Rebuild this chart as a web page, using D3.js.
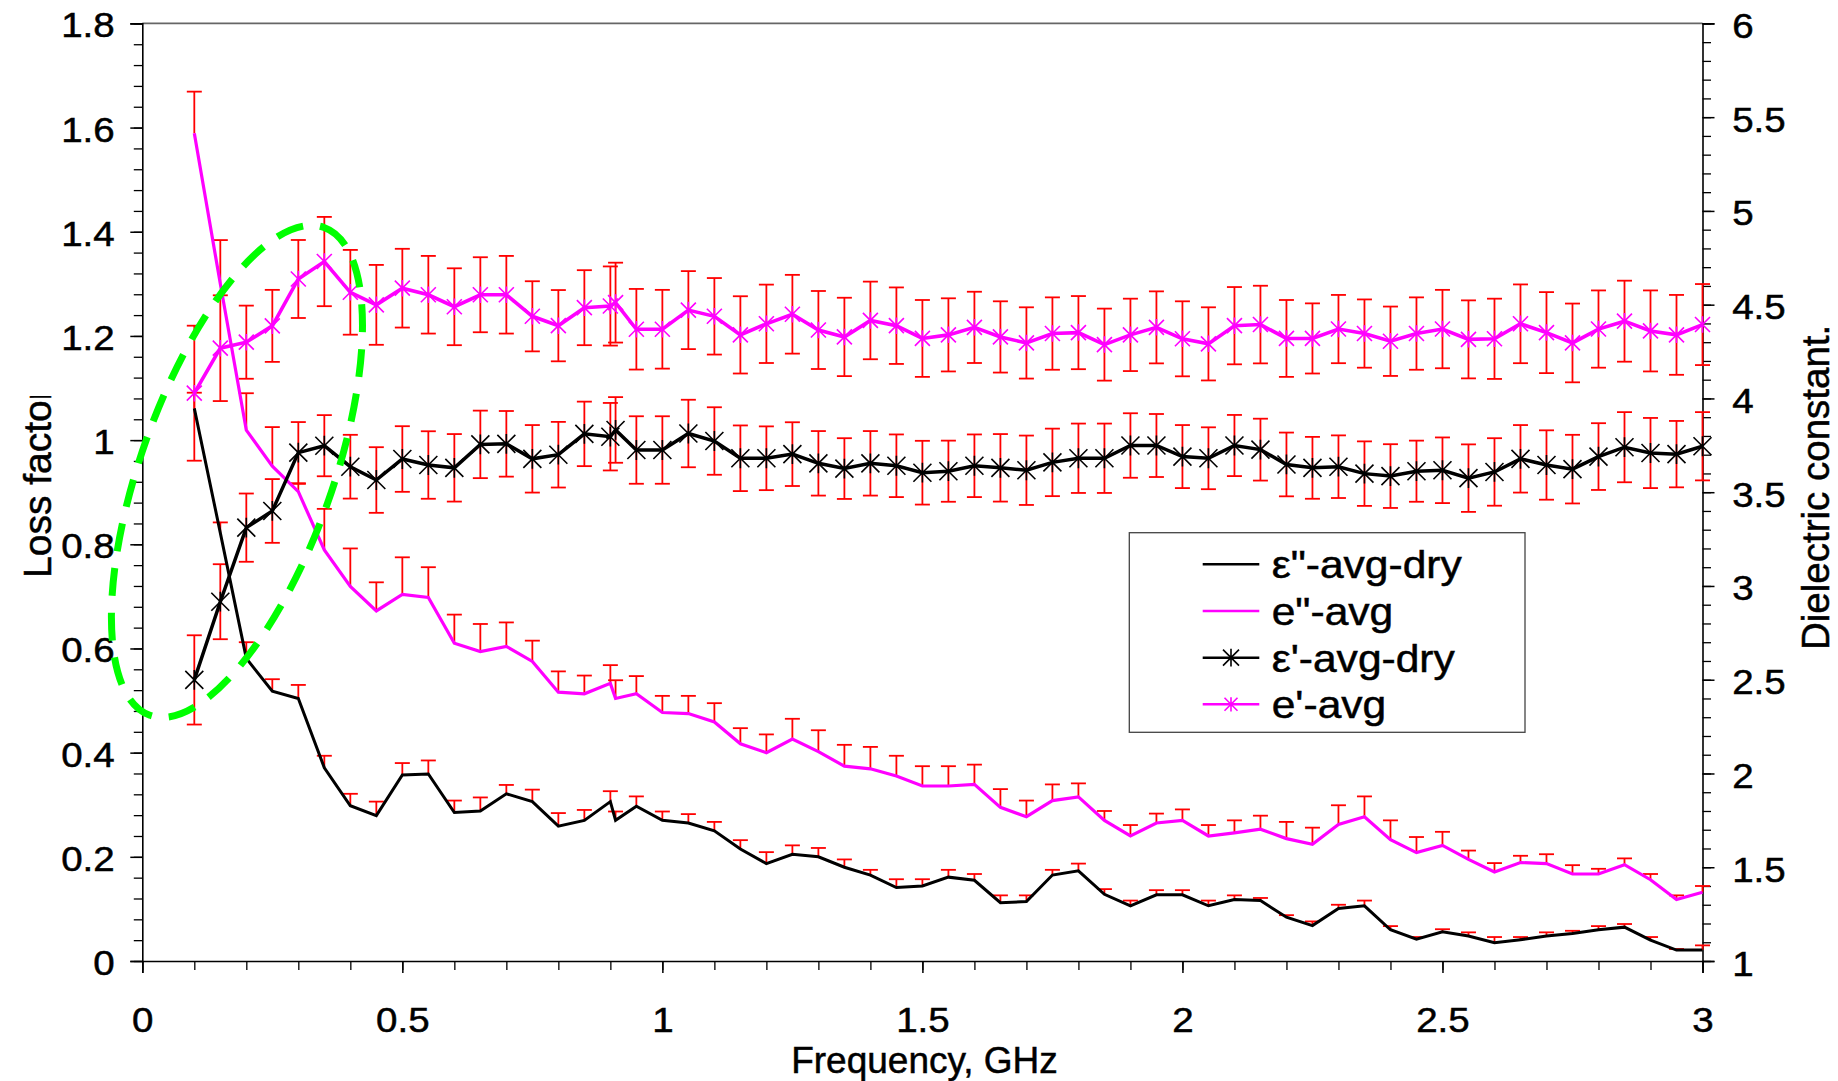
<!DOCTYPE html>
<html>
<head>
<meta charset="utf-8">
<script src="https://cdn.jsdelivr.net/npm/d3@7"></script>
<style>
  body { margin: 0; background: #fff; }
  svg { display: block; font-family: "Liberation Sans", Arial, sans-serif; }
  text { stroke: #000; stroke-width: 0.5px; }
</style>
</head>
<body>
<svg id="chart"></svg>
<script>
// frequency points (GHz) - note the extra sample just after 0.9
const freq = [0.1, 0.15, 0.2, 0.25, 0.3, 0.35, 0.4, 0.45, 0.5, 0.55, 0.6, 0.65, 0.7, 0.75, 0.8, 0.85, 0.9, 0.91,
  0.95, 1.0, 1.05, 1.1, 1.15, 1.2, 1.25, 1.3, 1.35, 1.4, 1.45, 1.5, 1.55, 1.6, 1.65, 1.7, 1.75, 1.8, 1.85, 1.9, 1.95,
  2.0, 2.05, 2.1, 2.15, 2.2, 2.25, 2.3, 2.35, 2.4, 2.45, 2.5, 2.55, 2.6, 2.65, 2.7, 2.75, 2.8, 2.85, 2.9, 2.95, 3.0];

// loss factor (left axis)
const lossDry = [1.061, 0.822, 0.581, 0.518, 0.504, 0.371, 0.298, 0.279, 0.357, 0.359, 0.285, 0.288, 0.321, 0.306, 0.259, 0.270, 0.306, 0.270,
  0.297, 0.270, 0.265, 0.250, 0.215, 0.187, 0.205, 0.200, 0.180, 0.165, 0.141, 0.144, 0.161, 0.155, 0.112, 0.114, 0.165, 0.173, 0.128, 0.106, 0.127,
  0.127, 0.106, 0.118, 0.116, 0.084, 0.068, 0.101, 0.106, 0.060, 0.042, 0.056, 0.048, 0.035, 0.041, 0.048, 0.053, 0.060, 0.065, 0.040, 0.021, 0.021];
const lossDryErr = [0.03, 0.02, 0.031, 0.023, 0.026, 0.023, 0.023, 0.027, 0.023, 0.026, 0.023, 0.026, 0.017, 0.023, 0.025, 0.02, 0.02, 0.017,
  0.019, 0.017, 0.017, 0.017, 0.017, 0.022, 0.017, 0.017, 0.015, 0.01, 0.016, 0.013, 0.014, 0.012, 0.014, 0.012, 0.01, 0.014, 0.01, 0.01, 0.009,
  0.009, 0.01, 0.008, 0.005, 0.004, 0.008, 0.007, 0.01, 0.007, 0.004, 0.005, 0.007, 0.011, 0.005, 0.007, 0.005, 0.007, 0.006, 0.006, 0.002, 0.009];

const lossWet = [1.589, 1.300, 1.019, 0.950, 0.901, 0.789, 0.719, 0.672, 0.704, 0.698, 0.610, 0.594, 0.604, 0.575, 0.516, 0.513, 0.533, 0.504,
  0.513, 0.477, 0.475, 0.459, 0.417, 0.400, 0.426, 0.402, 0.374, 0.369, 0.355, 0.336, 0.336, 0.339, 0.295, 0.277, 0.308, 0.315, 0.270, 0.240, 0.265,
  0.270, 0.240, 0.246, 0.253, 0.235, 0.224, 0.262, 0.277, 0.233, 0.208, 0.222, 0.195, 0.171, 0.189, 0.187, 0.167, 0.167, 0.185, 0.156, 0.118, 0.132];
const lossWetErr = [0.080, 0.084, 0.071, 0.075, 0.015, 0.079, 0.073, 0.055, 0.071, 0.058, 0.055, 0.053, 0.046, 0.040, 0.040, 0.035, 0.035, 0.035,
  0.034, 0.032, 0.034, 0.036, 0.030, 0.035, 0.039, 0.041, 0.041, 0.042, 0.039, 0.038, 0.038, 0.038, 0.035, 0.031, 0.031, 0.026, 0.018, 0.021, 0.018,
  0.021, 0.021, 0.024, 0.026, 0.032, 0.032, 0.037, 0.039, 0.037, 0.030, 0.026, 0.017, 0.017, 0.013, 0.018, 0.017, 0.010, 0.012, 0.011, 0.008, 0.012];

// dielectric constant (right axis)
const constDry = [2.499, 2.916, 3.311, 3.400, 3.711, 3.748, 3.636, 3.565, 3.677, 3.645, 3.630, 3.755, 3.758, 3.678, 3.700, 3.811, 3.796, 3.832,
  3.725, 3.725, 3.813, 3.773, 3.681, 3.681, 3.703, 3.654, 3.626, 3.654, 3.641, 3.604, 3.612, 3.641, 3.630, 3.617, 3.659, 3.681, 3.681, 3.749, 3.749,
  3.690, 3.681, 3.749, 3.727, 3.648, 3.630, 3.636, 3.599, 3.586, 3.612, 3.617, 3.575, 3.608, 3.678, 3.645, 3.623, 3.690, 3.740, 3.709, 3.703, 3.745];
const constDryErr = [0.238, 0.200, 0.182, 0.170, 0.163, 0.163, 0.170, 0.175, 0.175, 0.180, 0.180, 0.180, 0.175, 0.180, 0.175, 0.172, 0.180, 0.175,
  0.180, 0.180, 0.180, 0.180, 0.175, 0.170, 0.170, 0.172, 0.162, 0.172, 0.167, 0.170, 0.163, 0.167, 0.180, 0.185, 0.180, 0.185, 0.185, 0.172, 0.168,
  0.168, 0.165, 0.163, 0.165, 0.170, 0.165, 0.167, 0.172, 0.170, 0.163, 0.175, 0.180, 0.180, 0.180, 0.185, 0.183, 0.178, 0.187, 0.187, 0.177, 0.182];

const constWet = [4.028, 4.268, 4.300, 4.387, 4.637, 4.730, 4.566, 4.499, 4.588, 4.553, 4.489, 4.553, 4.553, 4.438, 4.388, 4.484, 4.493, 4.511,
  4.369, 4.369, 4.471, 4.438, 4.339, 4.398, 4.449, 4.365, 4.328, 4.416, 4.388, 4.320, 4.339, 4.379, 4.328, 4.296, 4.346, 4.351, 4.287, 4.339, 4.379,
  4.318, 4.291, 4.388, 4.394, 4.320, 4.320, 4.370, 4.346, 4.305, 4.346, 4.370, 4.315, 4.318, 4.398, 4.351, 4.296, 4.370, 4.412, 4.360, 4.339, 4.394];
const constWetErr = [0.360, 0.282, 0.195, 0.192, 0.208, 0.238, 0.226, 0.213, 0.210, 0.207, 0.205, 0.200, 0.207, 0.187, 0.190, 0.200, 0.211, 0.213,
  0.215, 0.210, 0.208, 0.204, 0.206, 0.209, 0.210, 0.208, 0.209, 0.207, 0.204, 0.205, 0.195, 0.190, 0.190, 0.190, 0.193, 0.195, 0.192, 0.193, 0.192,
  0.200, 0.195, 0.206, 0.207, 0.205, 0.187, 0.182, 0.182, 0.185, 0.193, 0.209, 0.208, 0.214, 0.210, 0.216, 0.210, 0.206, 0.216, 0.216, 0.213, 0.216];

const leftTicks = [0, 0.2, 0.4, 0.6, 0.8, 1, 1.2, 1.4, 1.6, 1.8];
const rightTicks = [1, 1.5, 2, 2.5, 3, 3.5, 4, 4.5, 5, 5.5, 6];
const xTicks = [0, 0.5, 1, 1.5, 2, 2.5, 3];
const legendLabels = ['ε"-avg-dry', 'e"-avg', "ε'-avg-dry", "e'-avg"];

// green dashed ring drawn round the low-frequency part (centre in data units)
const ringCentre = { freq: 0.182, loss: 0.94 };

const width = 1838, height = 1081;
const plotLeft = 142.3, plotRight = 1702.5, plotTop = 23.4, plotBottom = 961;
const tickScale = 'scale(1.1,1)';

const svg = d3.select('#chart').attr('width', width).attr('height', height);
svg.append('rect').attr('width', width).attr('height', height).attr('fill', '#fff');

const x = d3.scaleLinear().domain([0, 3]).range([plotLeft, plotRight]);
const yL = d3.scaleLinear().domain([0, 1.8]).range([plotBottom, plotTop]);
const yR = d3.scaleLinear().domain([1, 6]).range([plotBottom, plotTop]);

const series = [
  { name: legendLabels[0], v: lossDry, e: lossDryErr, y: yL, color: '#000', both: false, mark: 0, width: 3 },
  { name: legendLabels[1], v: lossWet, e: lossWetErr, y: yL, color: '#ff00ff', both: false, mark: 0, width: 3.2 },
  { name: legendLabels[2], v: constDry, e: constDryErr, y: yR, color: '#000', both: true, mark: 9, width: 3.5 },
  { name: legendLabels[3], v: constWet, e: constWetErr, y: yR, color: '#ff00ff', both: true, mark: 7.5, width: 3.6 }
];

function styleAxis(g) {
  g.select('.domain').attr('stroke', '#000').attr('stroke-width', 1.6);
  g.selectAll('.tick line').attr('stroke', '#000').attr('stroke-width', 1.5);
  g.selectAll('.tick text').attr('fill', '#000').attr('font-size', 35).attr('transform', tickScale).attr('dy', null);
}

function drawAxes() {
  // top border
  svg.append('line').attr('x1', plotLeft).attr('x2', plotRight).attr('y1', plotTop).attr('y2', plotTop)
    .attr('stroke', '#666').attr('stroke-width', 1.6);

  const minorL = svg.append('g').attr('transform', `translate(${plotLeft},0)`)
    .call(d3.axisLeft(yL).tickValues(d3.range(0, 1.801, 0.04)).tickSize(8.5).tickFormat(''));
  minorL.select('.domain').remove();
  minorL.selectAll('line').attr('stroke', '#000').attr('stroke-width', 1.3);

  const gL = svg.append('g').attr('transform', `translate(${plotLeft},0)`)
    .call(d3.axisLeft(yL).tickValues(leftTicks).tickSize(12).tickFormat(d3.format('~g')));
  styleAxis(gL);
  gL.selectAll('.tick text').attr('x', -27.6 / 1.1).attr('y', 13.5);

  const minorR = svg.append('g').attr('transform', `translate(${plotRight},0)`)
    .call(d3.axisRight(yR).tickValues(d3.range(1, 6.001, 0.1)).tickSize(8.5).tickFormat(''));
  minorR.select('.domain').remove();
  minorR.selectAll('line').attr('stroke', '#000').attr('stroke-width', 1.3);

  const gR = svg.append('g').attr('transform', `translate(${plotRight},0)`)
    .call(d3.axisRight(yR).tickValues(rightTicks).tickSize(12).tickFormat(d3.format('~g')));
  styleAxis(gR);
  gR.selectAll('.tick text').attr('x', 29.7 / 1.1).attr('y', 14);

  const minorB = svg.append('g').attr('transform', `translate(0,${plotBottom})`)
    .call(d3.axisBottom(x).tickValues(d3.range(0, 3.001, 0.1)).tickSize(9).tickFormat(''));
  minorB.select('.domain').remove();
  minorB.selectAll('line').attr('stroke', '#000').attr('stroke-width', 1.3);

  const gB = svg.append('g').attr('transform', `translate(0,${plotBottom})`)
    .call(d3.axisBottom(x).tickValues(xTicks).tickSize(12).tickFormat(d3.format('~g')));
  styleAxis(gB);
  gB.selectAll('.tick text').attr('y', 70.7);

  svg.append('text').attr('x', 924.5).attr('y', 1073).attr('text-anchor', 'middle')
    .attr('font-size', 37).text('Frequency, GHz');

  svg.append('clipPath').attr('id', 'ltitle')
    .append('rect').attr('x', 0).attr('y', 396).attr('width', 120).attr('height', 300);
  svg.append('g').attr('clip-path', 'url(#ltitle)')
    .append('text').attr('transform', 'translate(51.4,578) rotate(-90)')
    .attr('font-size', 39).text('Loss factor');

  svg.append('text').attr('transform', 'translate(1829,650) rotate(-90)')
    .attr('font-size', 38.5).text('Dielectric constant.');
}

function drawErrorBars() {
  const cap = 7.5;
  series.forEach(s => {
    const g = svg.append('g').attr('stroke', '#ff0000').attr('stroke-width', 1.8);
    freq.forEach((f, i) => {
      const px = x(f);
      const hi = s.y(s.v[i] + s.e[i]);
      const lo = s.both ? s.y(s.v[i] - s.e[i]) : s.y(s.v[i]);
      g.append('line').attr('x1', px).attr('x2', px).attr('y1', lo).attr('y2', hi);
      g.append('line').attr('x1', px - cap).attr('x2', px + cap).attr('y1', hi).attr('y2', hi);
      if (s.both) g.append('line').attr('x1', px - cap).attr('x2', px + cap).attr('y1', lo).attr('y2', lo);
    });
  });
}

function asterisk(r) {
  return `M${-r},${-r}L${r},${r}M${-r},${r}L${r},${-r}M0,${-r * 1.1}L0,${r * 1.1}`;
}

function drawLines() {
  series.forEach(s => {
    const line = d3.line().x((d, i) => x(freq[i])).y(d => s.y(d));
    svg.append('path').attr('fill', 'none').attr('stroke', s.color).attr('stroke-width', s.width)
      .attr('stroke-linejoin', 'miter').attr('d', line(s.v));
    if (s.mark) {
      svg.append('g').selectAll('path').data(s.v).enter().append('path')
        .attr('transform', (d, i) => `translate(${x(freq[i])},${s.y(d)})`)
        .attr('d', asterisk(s.mark)).attr('stroke', s.color).attr('stroke-width', 1.6).attr('fill', 'none');
    }
  });
}

function drawLegend() {
  const g = svg.append('g').attr('transform', 'translate(1129.3,532.7)');
  g.append('rect').attr('width', 395.7).attr('height', 199.6).attr('fill', '#fff')
    .attr('stroke', '#444').attr('stroke-width', 1.3);
  const rowY = d3.scaleLinear().domain([0, 3]).range([31.6, 171.6]);
  series.forEach((s, i) => {
    const yy = rowY(i);
    g.append('line').attr('x1', 73.4).attr('x2', 130).attr('y1', yy).attr('y2', yy)
      .attr('stroke', s.color).attr('stroke-width', 2.5);
    if (s.mark) {
      g.append('path').attr('transform', `translate(101.7,${yy})`).attr('d', asterisk(s.mark - 1))
        .attr('stroke', s.color).attr('stroke-width', 1.6).attr('fill', 'none');
    }
    g.append('text').attr('transform', `translate(142.4,${yy + 14}) scale(1.12,1)`)
      .attr('font-size', 38).text(s.name);
  });
}

function drawRing() {
  svg.append('ellipse')
    .attr('transform', `translate(${x(ringCentre.freq)},${yL(ringCentre.loss)}) rotate(-70.35)`)
    .attr('rx', 259).attr('ry', 96).attr('fill', 'none')
    .attr('stroke', '#00ff00').attr('stroke-width', 7).attr('stroke-dasharray', '28,17');
}

drawAxes();
drawErrorBars();
drawLines();
drawLegend();
drawRing();
</script>
</body>
</html>
